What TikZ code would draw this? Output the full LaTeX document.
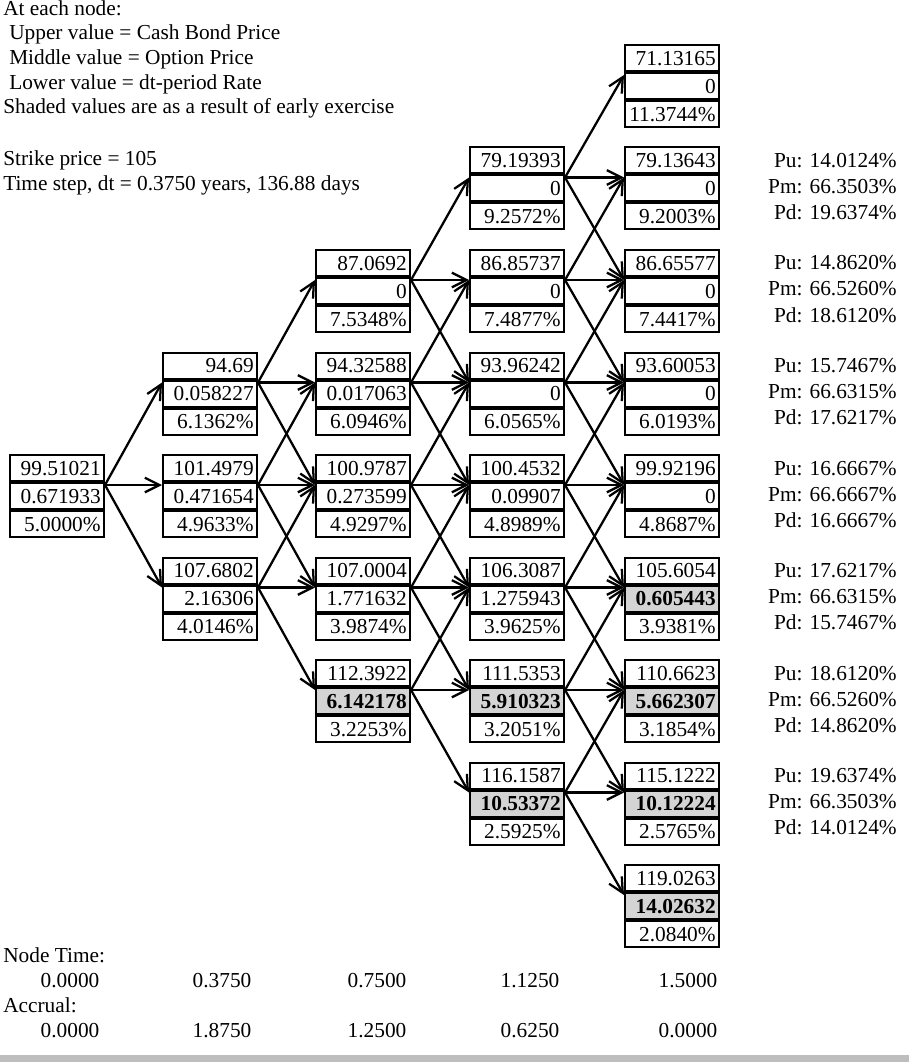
\documentclass[tikz,border=0pt]{standalone}
\usepackage{fontspec}
\setmainfont{Liberation Serif}
\usetikzlibrary{arrows.meta}
\definecolor{shadecol}{RGB}{212,212,212}
\definecolor{barcol}{RGB}{190,190,190}
\newcommand\fs{\fontsize{16}{18}\selectfont}
% name, x centre, y centre, upper, middle, lower, middle style
\newcommand\tb[7]{%
  \node[cell,#7] (#1) at (#2,#3) {#5};
  \node[cell,anchor=south] (#1-u) at (#1.north) {#4};
  \node[cell,anchor=north] (#1-d) at (#1.south) {#6};
}
\begin{document}
\begin{tikzpicture}[x=0.75pt,y=-0.75pt,
  cell/.style={draw, line width=1.5pt, minimum width=70.5pt, minimum height=19.5pt,
    text width=65.5pt, inner xsep=2.5pt, inner ysep=0pt, align=right,
    text height=10.8pt, text depth=0pt, font=\fs},
  ex/.style={fill=shadecol, font=\fs\bfseries},
  arr/.style={line width=1.7pt, -{Straight Barb[length=11pt,width=11pt]}},
  lbl/.style={font=\fs, inner sep=0pt, anchor=base west},
  prob/.style={font=\fs, inner sep=0pt, anchor=base east},
  num/.style={font=\fs, inner sep=0pt, anchor=base}]
\useasboundingbox (0,0) rectangle (909,1062);

% header text
\node[lbl] (h1) at (3,16) {At each node:};
\node[lbl] (h2) at (9,40) {Upper value = Cash Bond Price};
\node[lbl] (h3) at (9,65) {Middle value = Option Price};
\node[lbl] (h4) at (9,90) {Lower value = dt-period Rate};
\node[lbl] (h5) at (3,114) {Shaded values are as a result of early exercise};
\node[lbl] (h6) at (3,166) {Strike price = 105};
\node[lbl] (h7) at (3,191) {Time step, dt = 0.3750 years, 136.88 days};

% column 0
\tb{n0-4}{57}{496}{99.51021}{0.671933}{5.0000\%}{}
% column 1
\tb{n1-3}{210}{393.5}{94.69}{0.058227}{6.1362\%}{}
\tb{n1-4}{210}{496}{101.4979}{0.471654}{4.9633\%}{}
\tb{n1-5}{210}{598.5}{107.6802}{2.16306}{4.0146\%}{}
% column 2
\tb{n2-2}{363}{291}{87.0692}{0}{7.5348\%}{}
\tb{n2-3}{363}{393.5}{94.32588}{0.017063}{6.0946\%}{}
\tb{n2-4}{363}{496}{100.9787}{0.273599}{4.9297\%}{}
\tb{n2-5}{363}{598.5}{107.0004}{1.771632}{3.9874\%}{}
\tb{n2-6}{363}{701}{112.3922}{6.142178}{3.2253\%}{ex}
% column 3
\tb{n3-1}{517}{188.5}{79.19393}{0}{9.2572\%}{}
\tb{n3-2}{517}{291}{86.85737}{0}{7.4877\%}{}
\tb{n3-3}{517}{393.5}{93.96242}{0}{6.0565\%}{}
\tb{n3-4}{517}{496}{100.4532}{0.09907}{4.8989\%}{}
\tb{n3-5}{517}{598.5}{106.3087}{1.275943}{3.9625\%}{}
\tb{n3-6}{517}{701}{111.5353}{5.910323}{3.2051\%}{ex}
\tb{n3-7}{517}{803.5}{116.1587}{10.53372}{2.5925\%}{ex}
% column 4
\tb{n4-0}{672}{86}{71.13165}{0}{11.3744\%}{}
\tb{n4-1}{672}{188.5}{79.13643}{0}{9.2003\%}{}
\tb{n4-2}{672}{291}{86.65577}{0}{7.4417\%}{}
\tb{n4-3}{672}{393.5}{93.60053}{0}{6.0193\%}{}
\tb{n4-4}{672}{496}{99.92196}{0}{4.8687\%}{}
\tb{n4-5}{672}{598.5}{105.6054}{0.605443}{3.9381\%}{ex}
\tb{n4-6}{672}{701}{110.6623}{5.662307}{3.1854\%}{ex}
\tb{n4-7}{672}{803.5}{115.1222}{10.12224}{2.5765\%}{ex}
\tb{n4-8}{672}{906}{119.0263}{14.02632}{2.0840\%}{ex}

% connectors
\foreach \c in {0,...,3}{
  \pgfmathtruncatemacro\nc{\c+1}
  \pgfmathtruncatemacro\lo{4-\c}
  \pgfmathtruncatemacro\hi{4+\c}
  \foreach \r in {\lo,...,\hi}{
    \foreach \d in {-1,0,1}{
      \pgfmathtruncatemacro\t{\r+\d}
      \draw[arr] ([yshift=-2.25pt]n\c-\r.north east) -- ([yshift=-2.25pt]n\nc-\t.north west);
    }
  }
}

% probabilities
\foreach \r/\pu/\pm/\pd in {1/14.0124/66.3503/19.6374, 2/14.8620/66.5260/18.6120,
  3/15.7467/66.6315/17.6217, 4/16.6667/66.6667/16.6667, 5/17.6217/66.6315/15.7467,
  6/18.6120/66.5260/14.8620, 7/19.6374/66.3503/14.0124}{
  \node[prob] (pu\r) at (897,{86+102.5*\r-21}) {Pu: \pu\%};
  \node[prob] (pm\r) at (897,{86+102.5*\r+5}) {Pm: \pm\%};
  \node[prob] (pd\r) at (897,{86+102.5*\r+31}) {Pd: \pd\%};
}

% footer
\node[lbl] (nt) at (3,962) {Node Time:};
\node[num] (t0) at (70,987) {0.0000};
\node[num] (t1) at (222,987) {0.3750};
\node[num] (t2) at (377,987) {0.7500};
\node[num] (t3) at (530,987) {1.1250};
\node[num] (t4) at (688,987) {1.5000};
\node[lbl] (ac) at (3,1012) {Accrual:};
\node[num] (a0) at (70,1037) {0.0000};
\node[num] (a1) at (222,1037) {1.8750};
\node[num] (a2) at (377,1037) {1.2500};
\node[num] (a3) at (530,1037) {0.6250};
\node[num] (a4) at (688,1037) {0.0000};
\fill[barcol] (0,1055) rectangle (909,1062);
\end{tikzpicture}
\end{document}
